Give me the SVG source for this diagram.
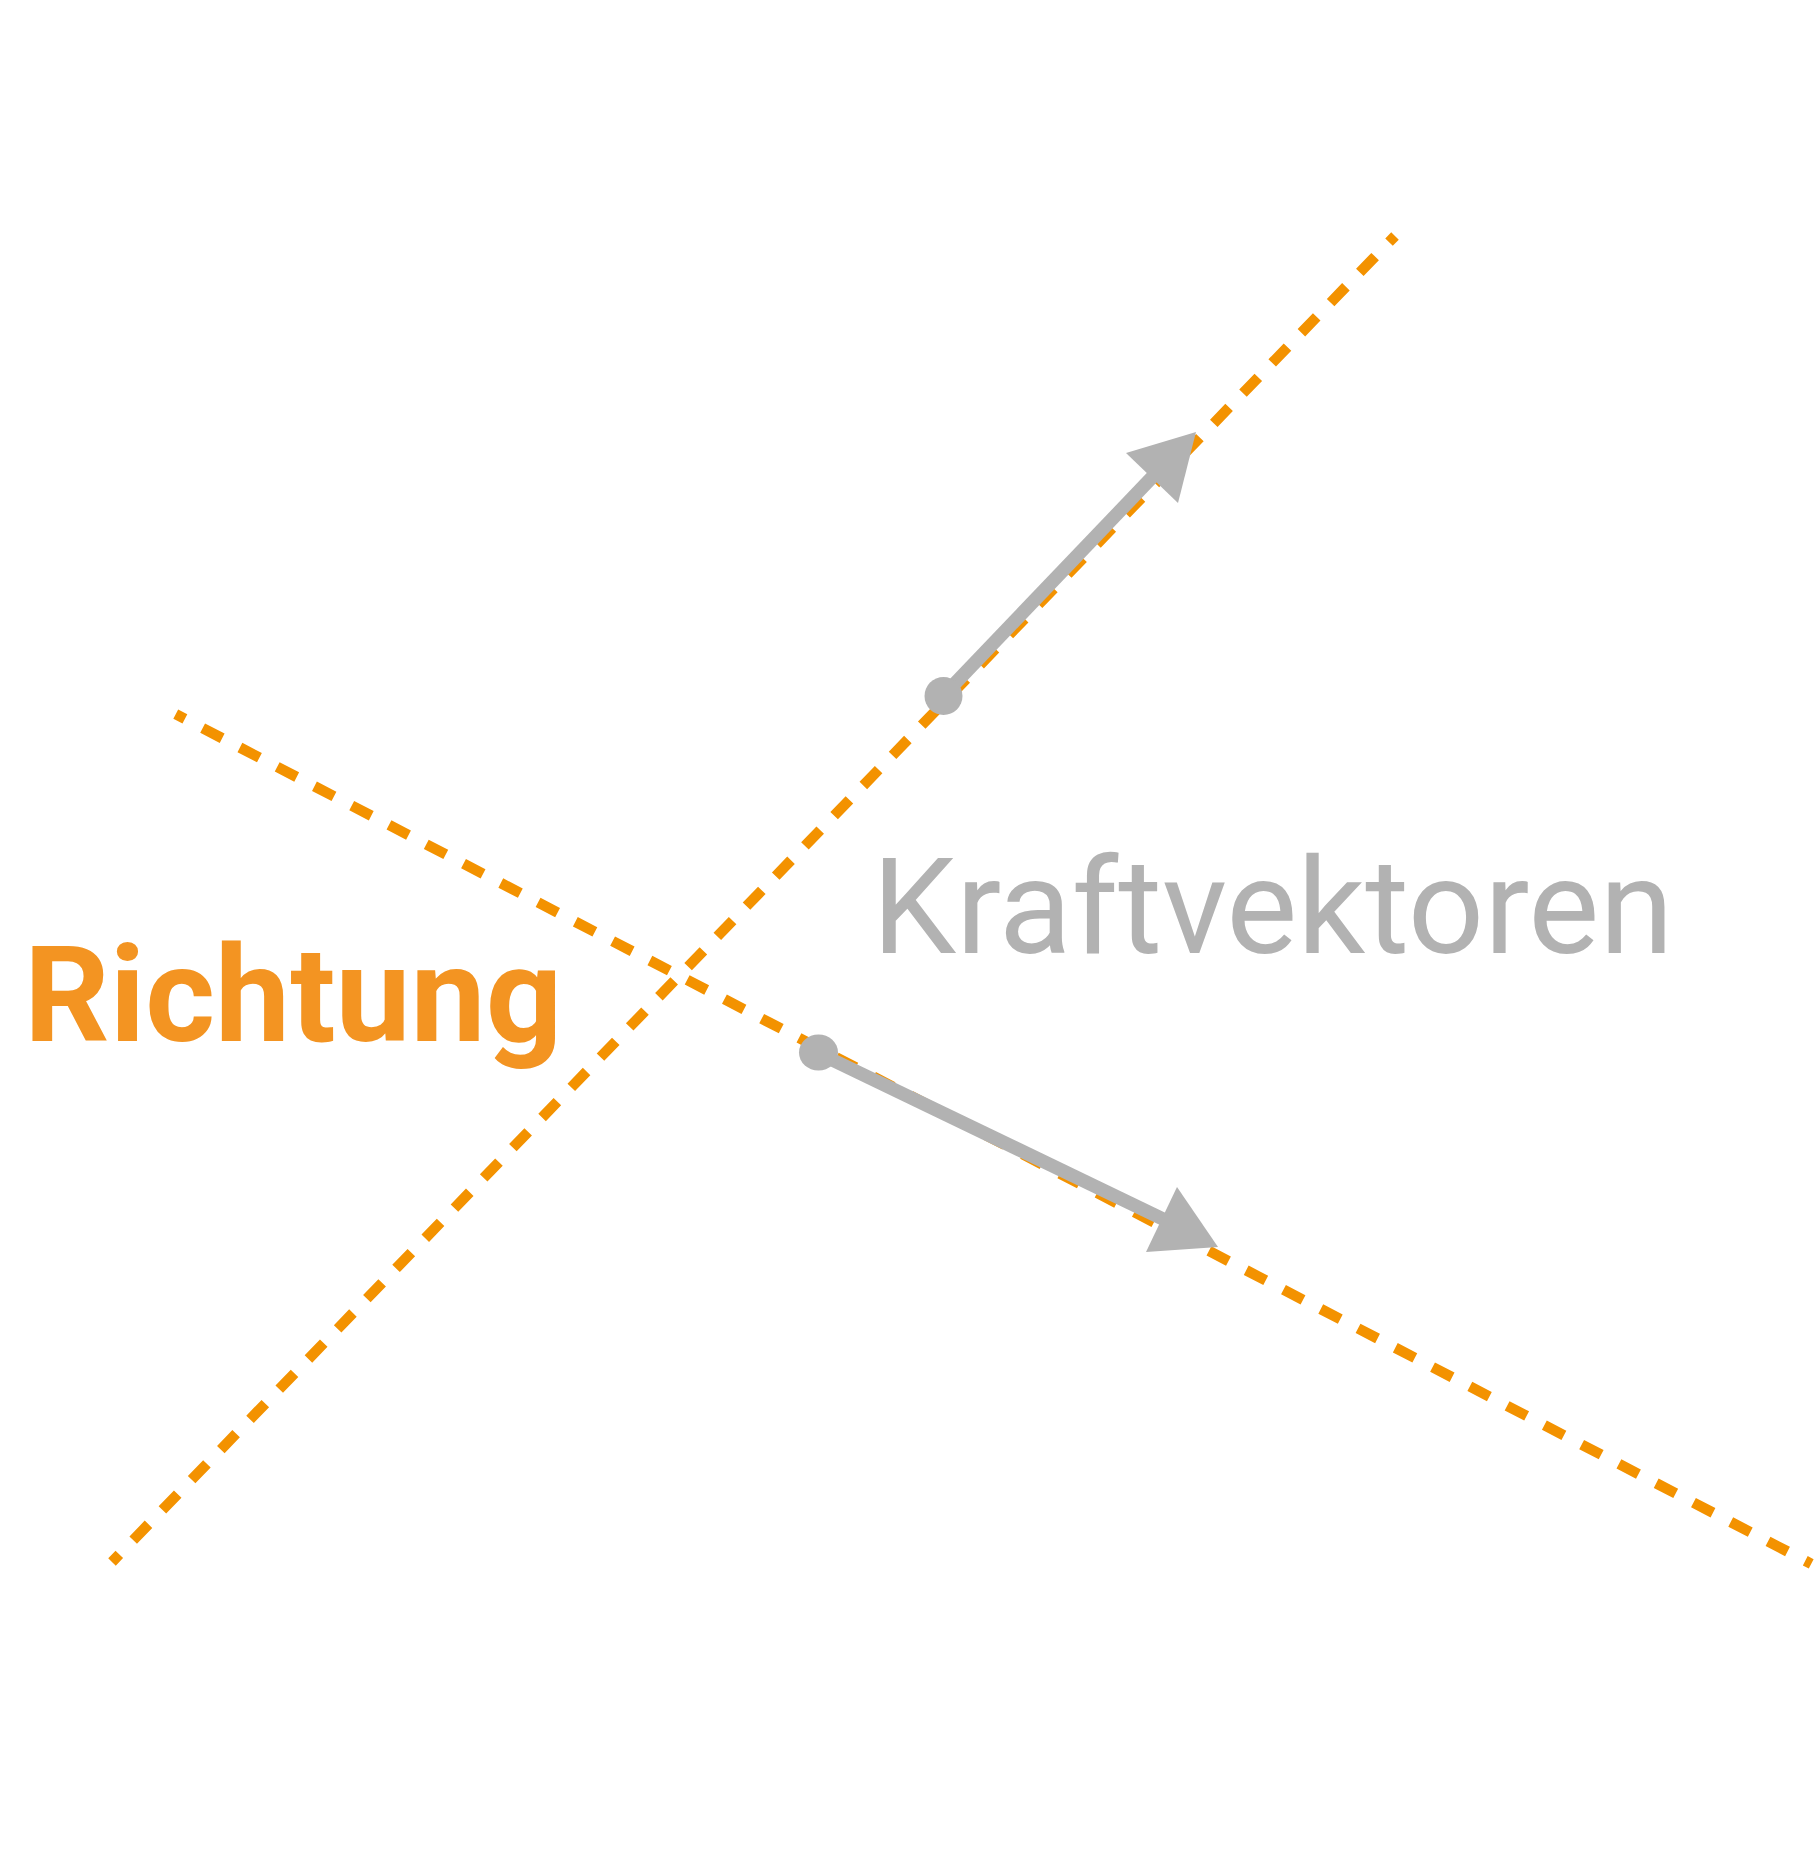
<svg xmlns="http://www.w3.org/2000/svg" width="1818" height="1851" viewBox="0 0 1818 1851">
<style>
.dir{fill:none;stroke:#F39200;stroke-width:10.5;stroke-dasharray:22 20}
.vec{fill:none;stroke:#B2B2B2;stroke-width:13.5}
.vecfill{fill:#B2B2B2}
.t1{font-family:Roboto,"Liberation Sans",sans-serif;font-weight:700;font-size:134px;fill:#F39422}
.t2{font-family:Roboto,"Liberation Sans",sans-serif;font-weight:400;font-size:134px;fill:#B2B2B2}
</style>
<rect width="1818" height="1851" fill="#FFFFFF"/>
<g id="connectors">
<g id="richtungslinien">
<path class="dir" stroke-dashoffset="11.5" d="M112,1562 L1395,236"/>
<path class="dir" stroke-dashoffset="11.7" d="M175.75,714.16 L1811.2,1563.8"/>
</g>
<g id="kraftvektor-1">
<line class="vec" x1="943" y1="696" x2="1160" y2="469"/>
<circle class="vecfill" cx="943.5" cy="696" r="19"/>
<polygon class="vecfill" points="1196,432 1126,453 1178,503"/>
</g>
<g id="kraftvektor-2">
<line class="vec" x1="818" y1="1053" x2="1165" y2="1220"/>
<ellipse class="vecfill" cx="818.5" cy="1052.5" rx="19.5" ry="18"/>
<polygon class="vecfill" points="1218,1247 1177,1187 1146,1252"/>
</g>
</g>
<g id="label-richtung">
<text class="t1" x="24" y="1041">Richtung</text>
</g>
<g id="label-kraftvektoren">
<text class="t2" x="872" y="953">Kraftvektoren</text>
</g>
</svg>
